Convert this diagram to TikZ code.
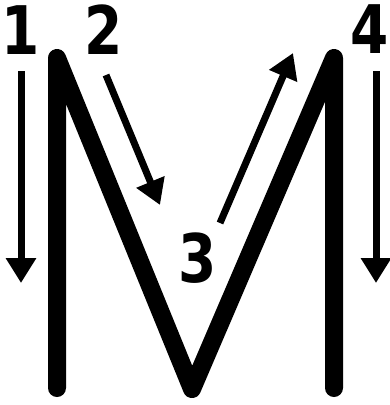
\documentclass[tikz,border=0pt]{standalone}
\usepackage{fontspec}
\setmainfont{DejaVu Sans}
\usetikzlibrary{arrows.meta}
\begin{document}
\begin{tikzpicture}[x=1pt,y=-1pt,
  stroke/.style={line width=18pt, line cap=round, line join=round},
  guide/.style={line width=7pt, -{Triangle[length=25pt,width=29pt]}},
  num/.style={font=\fontsize{67}{67}\selectfont\bfseries, xscale=0.82, inner sep=0pt}]
\useasboundingbox (0,0) rectangle (389,405);
% letter M
\coordinate (lb) at (57,388);
\coordinate (lt) at (57,58);
\coordinate (vb) at (192,389);
\coordinate (rt) at (334,58);
\coordinate (rb) at (334,388);
\draw[stroke] (lb) -- (lt) -- (vb) -- (rt) -- (rb);
% numbers
\node[num] (n1) at (21,30) {1};
\node[num] (n2) at (104,30) {2};
\node[num] (n3) at (198,258) {3};
\node[num] (n4) at (370,29) {4};
% arrows
\coordinate (a1s) at (21,71);  \coordinate (a1e) at (21,283);
\coordinate (a2s) at (106,75); \coordinate (a2e) at (160,205);
\coordinate (a3s) at (220,223); \coordinate (a3e) at (293,53);
\coordinate (a4s) at (376,71); \coordinate (a4e) at (376,283);
\draw[guide] (a1s) -- (a1e);
\draw[guide] (a2s) -- (a2e);
\draw[guide] (a3s) -- (a3e);
\draw[guide] (a4s) -- (a4e);
\end{tikzpicture}
\end{document}
